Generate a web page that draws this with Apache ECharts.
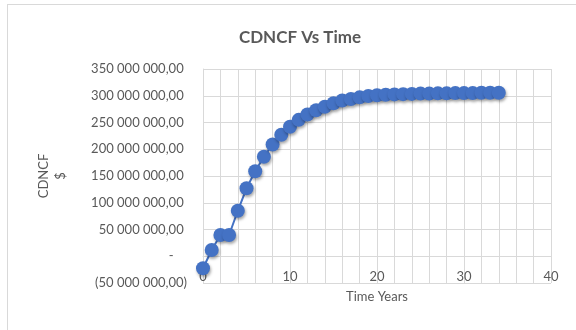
<!DOCTYPE html>
<html>
<head>
<meta charset="utf-8">
<script src="https://cdn.jsdelivr.net/npm/echarts@6/dist/echarts.min.js"></script>
<style>
  html, body { margin: 0; padding: 0; background: #fff; }
  #frame { position: absolute; left: 0; top: 0; width: 576px; height: 330px; }
  #edge { position: absolute; left: 7px; top: 4px; width: 580px; height: 340px;
          border-left: 1px solid #d9d9d9; border-top: 1px solid #d9d9d9; }
  #chart { position: absolute; left: 0; top: 0; width: 576px; height: 330px; }
</style>
</head>
<body>
<div id="frame">
  <div id="edge"></div>
  <div id="chart"></div>
</div>
<script>
// values (dollars)
const years = [0, 1, 2, 3, 4, 5, 6, 7, 8, 9, 10, 11, 12, 13, 14, 15, 16, 17,
  18, 19, 20, 21, 22, 23, 24, 25, 26, 27, 28, 29, 30, 31, 32, 33, 34];
const cdncf = [-22500000, 11700000, 39700000, 39700000, 85000000, 127000000,
  159000000, 186000000, 209000000, 227000000, 242000000, 255000000,
  265000000, 273000000, 279500000, 286000000, 291000000, 294000000,
  297000000, 299500000, 301000000, 302000000, 302500000, 303000000,
  303500000, 304000000, 304000000, 304500000, 304500000, 305000000,
  305000000, 305000000, 305500000, 305500000, 305500000];

const chartDom = document.getElementById("chart");
const myChart = echarts.init(chartDom);

const gray = "#595959";
const gridGray = "#d9d9d9";

function fmtMoney(v) {
  if (v === 0) return "-    ";
  const abs = Math.abs(v);
  const s = abs.toFixed(0).replace(/\B(?=(\d{3})+(?!\d))/g, " ") + ",00";
  return v < 0 ? "(" + s + ")" : s + " ";
}

const option = {
  animation: false,
  textStyle: { fontFamily: "Lato" },
  title: {
    text: "CDNCF Vs Time",
    left: 295,
    textAlign: "center",
    top: 24,
    textStyle: { fontSize: 17, fontWeight: "bold", color: gray, fontFamily: "Lato" },
  },
  grid: { left: 203, right: 25, top: 69, bottom: 47, containLabel: false },
  xAxis: {
    type: "value",
    min: 0,
    max: 40,
    interval: 10,
    // Excel puts the horizontal axis where y = 0, one band above the bottom
    offset: -27,
    name: "Time Years",
    nameLocation: "middle",
    nameGap: 34,
    nameTextStyle: { fontSize: 13, color: gray },
    axisLine: { onZero: false, lineStyle: { color: gridGray } },
    axisTick: { show: false },
    axisLabel: { fontSize: 13, color: gray, margin: 14 },
    splitLine: { show: true, lineStyle: { color: gridGray, width: 1 } },
    minorTick: { show: false, splitNumber: 5 },
    minorSplitLine: { show: true, lineStyle: { color: gridGray, width: 1 } },
  },
  yAxis: {
    type: "value",
    min: -50000000,
    max: 350000000,
    interval: 50000000,
    name: "CDNCF\n$",
    nameLocation: "middle",
    nameGap: 134,
    nameRotate: 90,
    nameTextStyle: { fontSize: 13, color: gray, lineHeight: 17 },
    axisLine: { show: true, lineStyle: { color: gridGray } },
    axisTick: { show: false },
    axisLabel: { fontSize: 13, color: gray, margin: 16, formatter: fmtMoney },
    splitLine: { show: true, lineStyle: { color: gridGray, width: 1 } },
  },
  series: [
    {
      type: "line",
      data: years.map((y, i) => [y, cdncf[i]]),
      symbol: "circle",
      symbolSize: 14,
      lineStyle: { color: "#4472C4", width: 2 },
      itemStyle: {
        color: "#4472C4",
        shadowBlur: 3,
        shadowColor: "rgba(0,0,0,0.35)",
        shadowOffsetY: 2,
        shadowOffsetX: 1,
      },
    },
  ],
};

myChart.setOption(option);
</script>
</body>
</html>
